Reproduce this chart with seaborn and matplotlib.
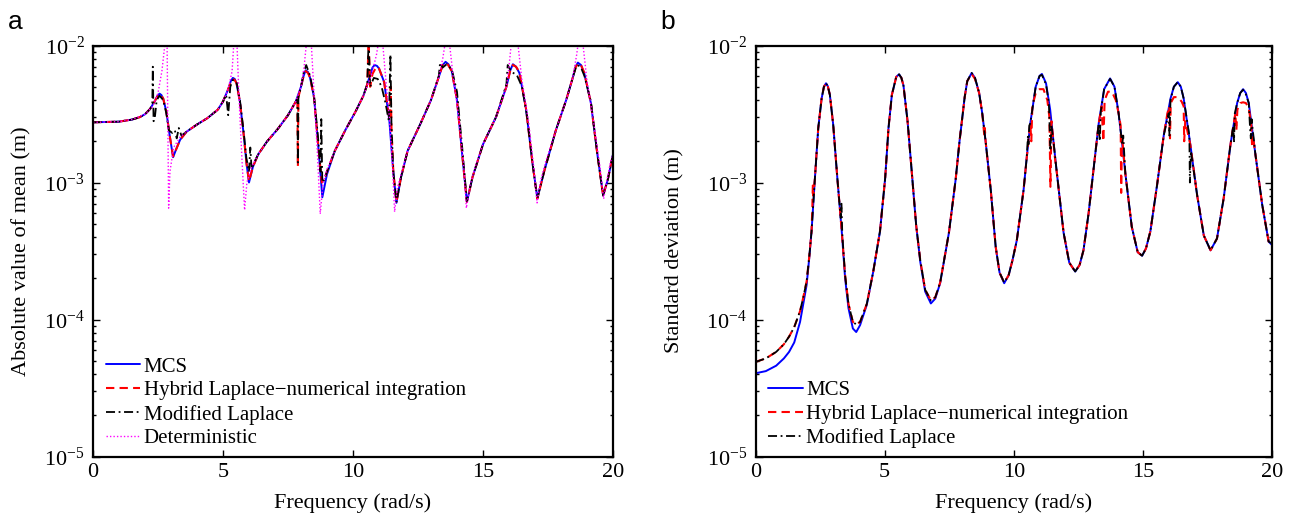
import numpy as np
import pandas as pd
import matplotlib
matplotlib.use("Agg")
import matplotlib.pyplot as plt
from matplotlib.ticker import LogLocator, LogFormatterMathtext, NullFormatter, FixedLocator
import seaborn as sns

# ---------------- data ----------------
# Panel a: absolute value of mean (m) vs frequency (rad/s)
mcs_a = [(0, 2.75e-3), (1.0, 2.78e-3), (1.5, 2.88e-3), (1.8, 3.0e-3), (2.0, 3.15e-3), (2.2, 3.45e-3),
         (2.4, 4.0e-3), (2.48, 4.3e-3), (2.56, 4.45e-3), (2.63, 4.35e-3), (2.7, 4.1e-3), (2.82, 3.3e-3),
         (2.95, 2.2e-3), (3.08, 1.53e-3), (3.2, 1.75e-3), (3.35, 2.05e-3), (3.6, 2.35e-3), (4.0, 2.65e-3),
         (4.4, 2.95e-3), (4.8, 3.4e-3), (5.0, 3.9e-3), (5.2, 4.8e-3), (5.3, 5.5e-3), (5.38, 5.8e-3),
         (5.45, 5.7e-3), (5.52, 5.3e-3), (5.65, 3.9e-3), (5.8, 2.2e-3), (5.9, 1.4e-3), (6.0, 1.0e-3),
         (6.15, 1.3e-3), (6.35, 1.6e-3), (6.7, 2.0e-3), (7.1, 2.45e-3), (7.5, 3.1e-3), (7.8, 3.9e-3),
         (8.0, 5.0e-3), (8.1, 6.0e-3), (8.18, 6.6e-3), (8.27, 6.4e-3), (8.35, 5.8e-3), (8.5, 4.2e-3),
         (8.65, 2.0e-3), (8.82, 7.8e-4), (9.0, 1.15e-3), (9.3, 1.7e-3), (9.7, 2.4e-3), (10.1, 3.3e-3),
         (10.4, 4.3e-3), (10.65, 6.0e-3), (10.75, 6.9e-3), (10.83, 7.2e-3), (10.92, 7.1e-3), (11.0, 6.8e-3),
         (11.2, 5.4e-3), (11.4, 2.8e-3), (11.55, 1.2e-3), (11.67, 7.1e-4), (11.85, 1.1e-3), (12.1, 1.7e-3),
         (12.6, 2.7e-3), (13.0, 4.0e-3), (13.3, 5.9e-3), (13.45, 7.2e-3), (13.56, 7.6e-3), (13.67, 7.3e-3),
         (13.8, 6.5e-3), (14.0, 4.0e-3), (14.2, 1.6e-3), (14.38, 7.2e-4), (14.6, 1.1e-3), (15.0, 1.9e-3),
         (15.5, 3.0e-3), (15.9, 5.0e-3), (16.05, 6.6e-3), (16.15, 7.3e-3), (16.27, 7.0e-3), (16.4, 6.3e-3),
         (16.65, 3.5e-3), (16.9, 1.4e-3), (17.09, 7.7e-4), (17.35, 1.2e-3), (17.8, 2.4e-3), (18.2, 4.0e-3),
         (18.45, 5.8e-3), (18.56, 7.0e-3), (18.65, 7.5e-3), (18.77, 7.2e-3), (18.9, 6.2e-3), (19.15, 3.8e-3),
         (19.4, 1.6e-3), (19.62, 8.1e-4), (19.8, 1.05e-3), (20.0, 1.6e-3)]

hyb_a = [(0, 2.75e-3), (1.0, 2.78e-3), (1.5, 2.88e-3), (1.8, 3.0e-3), (2.0, 3.15e-3), (2.2, 3.45e-3),
         (2.4, 4.0e-3), (2.48, 4.25e-3), (2.56, 4.4e-3), (2.63, 4.3e-3), (2.7, 4.1e-3), (2.82, 3.3e-3),
         (2.95, 2.2e-3), (3.08, 1.55e-3), (3.2, 1.75e-3), (3.35, 2.05e-3), (3.6, 2.35e-3), (4.0, 2.65e-3),
         (4.4, 2.95e-3), (4.8, 3.4e-3), (5.0, 3.9e-3), (5.2, 4.8e-3), (5.3, 5.4e-3), (5.38, 5.7e-3),
         (5.45, 5.6e-3), (5.52, 5.3e-3), (5.65, 3.9e-3), (5.8, 2.2e-3), (5.9, 1.4e-3), (6.0, 1.02e-3),
         (6.15, 1.3e-3), (6.35, 1.6e-3), (6.7, 2.0e-3), (7.1, 2.45e-3), (7.5, 3.1e-3), (7.8, 3.9e-3),
         (7.86, 4.1e-3), (7.88, 1.3e-3), (7.9, 4.2e-3), (8.0, 5.0e-3), (8.1, 6.0e-3), (8.18, 6.5e-3),
         (8.27, 6.3e-3), (8.35, 5.8e-3), (8.5, 4.2e-3), (8.65, 2.0e-3), (8.8, 1.0e-3), (8.9, 1.05e-3),
         (9.0, 1.2e-3), (9.3, 1.7e-3), (9.7, 2.4e-3), (10.1, 3.3e-3), (10.4, 4.3e-3), (10.55, 5.2e-3),
         (10.6, 1.1e-2), (10.66, 5.0e-3), (10.75, 6.2e-3), (10.9, 7.0e-3), (11.0, 6.8e-3), (11.2, 5.4e-3),
         (11.38, 3.0e-3), (11.42, 2.9e-3), (11.45, 5.0e-3), (11.48, 2.5e-3), (11.55, 1.2e-3), (11.67, 7.2e-4),
         (11.85, 1.1e-3), (12.1, 1.7e-3), (12.6, 2.7e-3), (13.0, 4.0e-3), (13.3, 5.9e-3), (13.45, 7.2e-3),
         (13.6, 7.5e-3), (13.8, 6.5e-3), (14.0, 4.0e-3), (14.2, 1.6e-3), (14.38, 7.2e-4), (14.6, 1.1e-3),
         (15.0, 1.9e-3), (15.5, 3.0e-3), (15.9, 5.0e-3), (16.05, 6.6e-3), (16.15, 7.2e-3), (16.27, 7.0e-3),
         (16.4, 6.4e-3), (16.65, 3.5e-3), (16.9, 1.4e-3), (17.09, 7.6e-4), (17.35, 1.2e-3), (17.8, 2.4e-3),
         (18.2, 4.0e-3), (18.45, 5.8e-3), (18.56, 6.9e-3), (18.65, 7.4e-3), (18.77, 7.2e-3), (18.9, 6.3e-3),
         (19.15, 3.8e-3), (19.4, 1.6e-3), (19.62, 8.0e-4), (19.8, 1.05e-3), (20.0, 1.6e-3)]

mod_a = [(0, 2.75e-3), (1.0, 2.78e-3), (1.5, 2.88e-3), (1.8, 3.0e-3), (2.0, 3.15e-3), (2.2, 3.45e-3),
         (2.28, 3.7e-3), (2.3, 7.0e-3), (2.33, 2.8e-3), (2.38, 3.0e-3), (2.45, 4.0e-3), (2.56, 4.3e-3),
         (2.7, 4.0e-3), (2.82, 3.2e-3), (2.92, 2.4e-3), (3.05, 2.3e-3), (3.15, 2.4e-3), (3.22, 2.1e-3),
         (3.3, 2.5e-3), (3.4, 2.2e-3), (3.6, 2.35e-3), (4.0, 2.65e-3), (4.4, 2.95e-3), (4.8, 3.4e-3),
         (5.0, 3.9e-3), (5.12, 4.4e-3), (5.2, 3.1e-3), (5.28, 5.0e-3), (5.38, 5.6e-3), (5.52, 5.4e-3),
         (5.65, 4.0e-3), (5.8, 2.3e-3), (5.9, 1.5e-3), (6.0, 1.2e-3), (6.05, 1.8e-3), (6.1, 1.25e-3),
         (6.2, 1.4e-3), (6.35, 1.6e-3), (6.7, 2.0e-3), (7.1, 2.45e-3), (7.5, 3.1e-3), (7.8, 3.9e-3),
         (7.86, 4.1e-3), (7.88, 1.4e-3), (7.9, 4.2e-3), (8.0, 5.0e-3), (8.1, 6.3e-3), (8.2, 7.2e-3),
         (8.35, 6.0e-3), (8.5, 4.3e-3), (8.65, 2.2e-3), (8.75, 1.2e-3), (8.78, 2.9e-3), (8.82, 1.0e-3),
         (8.9, 1.05e-3), (9.0, 1.2e-3), (9.3, 1.7e-3), (9.7, 2.4e-3), (10.1, 3.3e-3), (10.4, 4.3e-3),
         (10.55, 5.2e-3), (10.6, 1.1e-2), (10.66, 5.0e-3), (10.8, 5.8e-3), (10.95, 5.7e-3), (11.1, 5.0e-3),
         (11.25, 3.8e-3), (11.38, 2.8e-3), (11.44, 8.6e-3), (11.48, 2.6e-3), (11.55, 1.2e-3), (11.67, 7.2e-4),
         (11.85, 1.1e-3), (12.1, 1.7e-3), (12.6, 2.7e-3), (13.0, 4.0e-3), (13.3, 6.0e-3), (13.35, 7.5e-3),
         (13.45, 6.9e-3), (13.6, 7.3e-3), (13.8, 6.7e-3), (14.0, 4.6e-3), (14.2, 1.8e-3), (14.38, 7.3e-4),
         (14.6, 1.1e-3), (15.0, 1.9e-3), (15.5, 3.0e-3), (15.9, 5.2e-3), (15.95, 7.2e-3), (16.1, 6.4e-3),
         (16.3, 6.1e-3), (16.5, 5.0e-3), (16.7, 3.0e-3), (16.9, 1.4e-3), (17.09, 7.6e-4), (17.35, 1.2e-3),
         (17.8, 2.4e-3), (18.2, 4.0e-3), (18.45, 5.8e-3), (18.56, 6.8e-3), (18.65, 7.2e-3), (18.77, 6.9e-3),
         (18.9, 6.0e-3), (19.15, 3.9e-3), (19.4, 1.6e-3), (19.62, 8.0e-4), (19.8, 1.05e-3), (20.0, 1.6e-3)]

det_a = [(0, 2.75e-3), (1.0, 2.78e-3), (1.5, 2.88e-3), (2.0, 3.15e-3), (2.3, 3.6e-3), (2.5, 4.5e-3),
         (2.65, 6.5e-3), (2.76, 1.0e-2), (2.8, 3e-2), (2.85, 1.0e-2), (2.88, 2.5e-3), (2.91, 6.5e-4),
         (2.96, 1.2e-3), (3.1, 1.8e-3), (3.35, 2.15e-3), (3.6, 2.35e-3), (4.0, 2.65e-3), (4.4, 2.95e-3),
         (4.8, 3.4e-3), (5.0, 3.9e-3), (5.2, 4.8e-3), (5.35, 6.5e-3), (5.41, 1.0e-2), (5.48, 3e-2),
         (5.54, 1.0e-2), (5.62, 4.0e-3), (5.72, 1.6e-3), (5.83, 6.3e-4), (5.92, 1.0e-3), (6.1, 1.3e-3),
         (6.35, 1.6e-3), (6.7, 2.0e-3), (7.1, 2.45e-3), (7.5, 3.1e-3), (7.8, 3.9e-3), (8.0, 5.0e-3),
         (8.12, 7.0e-3), (8.2, 1.0e-2), (8.3, 3e-2), (8.4, 1.0e-2), (8.5, 4.5e-3), (8.62, 1.8e-3),
         (8.74, 5.9e-4), (8.85, 1.0e-3), (9.0, 1.25e-3), (9.3, 1.7e-3), (9.7, 2.4e-3), (10.1, 3.3e-3),
         (10.4, 4.3e-3), (10.7, 6.0e-3), (10.9, 8.5e-3), (10.96, 1.0e-2), (11.05, 3e-2), (11.15, 1.0e-2),
         (11.25, 6.0e-3), (11.4, 3.0e-3), (11.52, 1.3e-3), (11.6, 6.1e-4), (11.7, 9.0e-4), (11.85, 1.15e-3),
         (12.1, 1.7e-3), (12.6, 2.7e-3), (13.0, 4.0e-3), (13.3, 5.9e-3), (13.45, 8.0e-3), (13.53, 1.0e-2),
         (13.62, 3e-2), (13.72, 1.0e-2), (13.85, 6.0e-3), (14.05, 3.2e-3), (14.25, 1.4e-3), (14.36, 6.5e-4),
         (14.5, 9.5e-4), (14.7, 1.3e-3), (15.0, 1.9e-3), (15.5, 3.0e-3), (15.9, 5.0e-3), (16.0, 7.0e-3),
         (16.08, 1.0e-2), (16.2, 3e-2), (16.35, 1.0e-2), (16.5, 5.5e-3), (16.75, 2.8e-3), (16.95, 1.3e-3),
         (17.08, 7.1e-4), (17.2, 1.0e-3), (17.4, 1.4e-3), (17.8, 2.4e-3), (18.2, 4.0e-3), (18.45, 5.8e-3),
         (18.6, 8.5e-3), (18.65, 1.0e-2), (18.75, 3e-2), (18.85, 1.0e-2), (19.0, 5.5e-3), (19.25, 2.8e-3),
         (19.5, 1.3e-3), (19.64, 7.6e-4), (19.75, 1.0e-3), (19.9, 1.4e-3), (20.0, 1.6e-3)]

# Panel b: standard deviation (m) vs frequency (rad/s)
mcs_b = [(0, 4.05e-5), (0.4, 4.2e-5), (0.8, 4.6e-5), (1.1, 5.2e-5), (1.3, 5.8e-5), (1.5, 6.8e-5),
         (1.725, 9.6e-5), (1.85, 1.3e-4), (1.98, 1.79e-4), (2.08, 2.8e-4), (2.17, 4.4e-4), (2.3, 1.07e-3),
         (2.43, 2.5e-3), (2.56, 4.1e-3), (2.65, 5.0e-3), (2.73, 5.3e-3), (2.8, 5.05e-3), (2.88, 4.36e-3),
         (3.01, 2.63e-3), (3.17, 1.07e-3), (3.34, 4.4e-4), (3.47, 2.0e-4), (3.6, 1.21e-4), (3.77, 8.6e-5),
         (3.9, 8.1e-5), (4.05, 9.1e-5), (4.31, 1.28e-4), (4.56, 2.24e-4), (4.82, 4.4e-4), (5.02, 1.07e-3),
         (5.15, 2.5e-3), (5.28, 4.36e-3), (5.45, 5.9e-3), (5.56, 6.16e-3), (5.65, 5.8e-3), (5.73, 5.1e-3),
         (5.89, 2.78e-3), (6.05, 1.2e-3), (6.22, 4.9e-4), (6.38, 2.64e-4), (6.57, 1.6e-4), (6.79, 1.31e-4),
         (6.96, 1.42e-4), (7.15, 1.84e-4), (7.49, 4.3e-4), (7.75, 1.05e-3), (7.9, 2.0e-3), (8.01, 3.0e-3),
         (8.1, 4.2e-3), (8.2, 5.5e-3), (8.37, 6.3e-3), (8.5, 5.8e-3), (8.66, 4.5e-3), (8.78, 3.2e-3),
         (8.91, 2.0e-3), (9.11, 8.8e-4), (9.3, 3.4e-4), (9.45, 2.2e-4), (9.63, 1.84e-4), (9.8, 2.1e-4),
         (9.95, 2.7e-4), (10.12, 3.8e-4), (10.38, 8.8e-4), (10.5, 1.5e-3), (10.64, 2.7e-3), (10.85, 5.0e-3),
         (11.0, 6.0e-3), (11.09, 6.2e-3), (11.25, 5.3e-3), (11.41, 3.4e-3), (11.55, 1.9e-3), (11.67, 1.17e-3),
         (11.93, 4.3e-4), (12.15, 2.6e-4), (12.38, 2.24e-4), (12.55, 2.5e-4), (12.7, 3.2e-4), (12.9, 6.0e-4),
         (13.03, 9.9e-4), (13.29, 2.7e-3), (13.5, 4.8e-3), (13.73, 5.75e-3), (13.9, 5.0e-3), (14.06, 3.2e-3),
         (14.2, 1.9e-3), (14.32, 1.17e-3), (14.57, 4.75e-4), (14.8, 3.1e-4), (14.97, 2.92e-4), (15.12, 3.3e-4),
         (15.29, 4.4e-4), (15.55, 9.6e-4), (15.81, 2.22e-3), (16.07, 4.1e-3), (16.2, 5.0e-3), (16.35, 5.4e-3),
         (16.47, 5.0e-3), (16.58, 4.1e-3), (16.84, 1.88e-3), (17.1, 8.1e-4), (17.36, 4.1e-4), (17.62, 3.2e-4),
         (17.87, 3.9e-4), (18.13, 7.7e-4), (18.39, 1.88e-3), (18.65, 3.8e-3), (18.77, 4.5e-3), (18.88, 4.8e-3),
         (18.99, 4.5e-3), (19.1, 3.8e-3), (19.36, 1.59e-3), (19.62, 6.9e-4), (19.87, 3.7e-4), (20.0, 3.5e-4)]

hyb_b = [(0, 4.9e-5), (0.4, 5.2e-5), (0.8, 5.8e-5), (1.1, 6.6e-5), (1.3, 7.5e-5), (1.5, 8.8e-5),
         (1.725, 1.15e-4), (1.85, 1.45e-4), (1.98, 1.9e-4), (2.08, 2.85e-4), (2.17, 4.4e-4), (2.2, 6.5e-4),
         (2.22, 9.5e-4), (2.24, 8.0e-4), (2.3, 1.07e-3), (2.43, 2.5e-3), (2.56, 4.1e-3), (2.65, 5.0e-3),
         (2.73, 5.3e-3), (2.8, 5.05e-3), (2.88, 4.36e-3), (3.01, 2.63e-3), (3.17, 1.07e-3), (3.34, 4.4e-4),
         (3.47, 2.1e-4), (3.6, 1.3e-4), (3.77, 9.6e-5), (3.9, 9.2e-5), (4.05, 9.6e-5), (4.31, 1.3e-4),
         (4.56, 2.24e-4), (4.82, 4.4e-4), (5.02, 1.07e-3), (5.15, 2.5e-3), (5.28, 4.36e-3), (5.45, 5.9e-3),
         (5.56, 6.16e-3), (5.65, 5.8e-3), (5.73, 5.1e-3), (5.89, 2.78e-3), (6.05, 1.2e-3), (6.22, 4.9e-4),
         (6.38, 2.7e-4), (6.57, 1.65e-4), (6.79, 1.38e-4), (6.96, 1.45e-4), (7.15, 1.86e-4), (7.49, 4.3e-4),
         (7.75, 1.05e-3), (7.9, 2.0e-3), (8.01, 3.0e-3), (8.1, 4.2e-3), (8.2, 5.5e-3), (8.37, 6.2e-3),
         (8.5, 5.7e-3), (8.66, 4.5e-3), (8.78, 3.2e-3), (8.86, 2.2e-3), (8.88, 2.5e-3), (8.91, 2.0e-3),
         (9.11, 8.8e-4), (9.3, 3.4e-4), (9.45, 2.2e-4), (9.63, 1.86e-4), (9.8, 2.1e-4), (9.95, 2.7e-4),
         (10.12, 3.8e-4), (10.38, 8.8e-4), (10.5, 1.5e-3), (10.64, 2.7e-3), (10.68, 2.0e-3), (10.72, 3.6e-3),
         (10.85, 4.5e-3), (11.0, 4.8e-3), (11.15, 4.8e-3), (11.3, 4.0e-3), (11.38, 3.0e-3), (11.42, 9.3e-4),
         (11.46, 2.8e-3), (11.55, 1.9e-3), (11.58, 1.6e-3), (11.67, 1.17e-3), (11.93, 4.3e-4), (12.15, 2.6e-4),
         (12.38, 2.24e-4), (12.55, 2.5e-4), (12.7, 3.2e-4), (12.9, 6.0e-4), (13.03, 9.9e-4), (13.29, 2.7e-3),
         (13.4, 3.6e-3), (13.47, 2.0e-3), (13.52, 4.0e-3), (13.65, 4.6e-3), (13.8, 4.6e-3), (13.95, 4.0e-3),
         (14.06, 3.2e-3), (14.14, 2.6e-3), (14.16, 8.4e-4), (14.19, 2.2e-3), (14.32, 1.17e-3), (14.57, 4.75e-4),
         (14.8, 3.1e-4), (14.97, 2.92e-4), (15.12, 3.3e-4), (15.29, 4.4e-4), (15.55, 9.6e-4), (15.81, 2.22e-3),
         (15.95, 3.2e-3), (16.02, 3.6e-3), (16.05, 2.1e-3), (16.08, 3.8e-3), (16.2, 4.2e-3), (16.35, 4.2e-3),
         (16.5, 3.9e-3), (16.58, 3.6e-3), (16.6, 2.0e-3), (16.64, 2.8e-3), (16.84, 1.88e-3), (17.1, 8.1e-4),
         (17.36, 4.1e-4), (17.62, 3.2e-4), (17.87, 3.9e-4), (18.13, 7.7e-4), (18.39, 1.88e-3), (18.58, 3.2e-3),
         (18.62, 2.4e-3), (18.66, 3.4e-3), (18.77, 3.8e-3), (18.88, 3.85e-3), (18.99, 3.8e-3), (19.1, 3.5e-3),
         (19.2, 2.6e-3), (19.23, 1.8e-3), (19.26, 2.2e-3), (19.36, 1.59e-3), (19.62, 6.9e-4), (19.87, 3.7e-4),
         (20.0, 3.6e-4)]

mod_b = [(0, 4.9e-5), (0.4, 5.2e-5), (0.8, 5.8e-5), (1.1, 6.6e-5), (1.3, 7.5e-5), (1.5, 8.8e-5),
         (1.725, 1.15e-4), (1.85, 1.45e-4), (1.98, 1.9e-4), (2.08, 2.85e-4), (2.17, 4.4e-4), (2.3, 1.07e-3),
         (2.43, 2.5e-3), (2.56, 4.1e-3), (2.65, 5.0e-3), (2.73, 5.3e-3), (2.8, 5.05e-3), (2.88, 4.36e-3),
         (3.01, 2.63e-3), (3.17, 1.07e-3), (3.3, 5.5e-4), (3.33, 7.0e-4), (3.36, 4.2e-4), (3.47, 2.1e-4),
         (3.6, 1.3e-4), (3.77, 9.6e-5), (3.9, 9.2e-5), (4.05, 9.6e-5), (4.31, 1.3e-4), (4.56, 2.24e-4),
         (4.82, 4.4e-4), (5.02, 1.07e-3), (5.15, 2.5e-3), (5.28, 4.36e-3), (5.45, 5.9e-3), (5.56, 6.16e-3),
         (5.65, 5.8e-3), (5.73, 5.1e-3), (5.89, 2.78e-3), (6.05, 1.2e-3), (6.22, 4.9e-4), (6.38, 2.7e-4),
         (6.57, 1.65e-4), (6.79, 1.38e-4), (6.96, 1.45e-4), (7.15, 1.86e-4), (7.49, 4.3e-4), (7.75, 1.05e-3),
         (7.9, 2.0e-3), (8.01, 3.0e-3), (8.1, 4.2e-3), (8.2, 5.5e-3), (8.37, 6.3e-3), (8.5, 5.8e-3),
         (8.66, 4.5e-3), (8.78, 3.2e-3), (8.91, 2.0e-3), (9.11, 8.8e-4), (9.3, 3.4e-4), (9.45, 2.2e-4),
         (9.63, 1.86e-4), (9.8, 2.1e-4), (9.95, 2.7e-4), (10.12, 3.8e-4), (10.38, 8.8e-4), (10.5, 1.5e-3),
         (10.55, 2.2e-3), (10.57, 1.9e-3), (10.6, 2.6e-3), (10.64, 2.7e-3), (10.85, 5.0e-3), (11.0, 6.0e-3),
         (11.09, 6.1e-3), (11.25, 5.2e-3), (11.36, 3.8e-3), (11.42, 1.7e-3), (11.46, 2.6e-3), (11.55, 1.9e-3),
         (11.67, 1.17e-3), (11.93, 4.3e-4), (12.15, 2.6e-4), (12.38, 2.24e-4), (12.55, 2.5e-4), (12.7, 3.2e-4),
         (12.9, 6.0e-4), (13.03, 9.9e-4), (13.29, 2.7e-3), (13.33, 2.0e-3), (13.37, 3.3e-3), (13.5, 4.8e-3),
         (13.73, 5.7e-3), (13.9, 5.0e-3), (14.06, 3.2e-3), (14.2, 1.9e-3), (14.24, 2.2e-3), (14.32, 1.17e-3),
         (14.57, 4.75e-4), (14.8, 3.1e-4), (14.97, 2.92e-4), (15.12, 3.3e-4), (15.29, 4.4e-4), (15.55, 9.6e-4),
         (15.81, 2.22e-3), (16.0, 3.2e-3), (16.03, 2.2e-3), (16.07, 4.0e-3), (16.2, 5.0e-3), (16.35, 5.4e-3),
         (16.47, 5.0e-3), (16.58, 4.1e-3), (16.8, 2.2e-3), (16.82, 1.0e-3), (16.86, 1.7e-3), (17.1, 8.1e-4),
         (17.36, 4.1e-4), (17.62, 3.2e-4), (17.87, 3.9e-4), (18.13, 7.7e-4), (18.39, 1.88e-3), (18.5, 2.6e-3),
         (18.53, 2.0e-3), (18.56, 3.2e-3), (18.65, 3.8e-3), (18.77, 4.5e-3), (18.88, 4.75e-3), (18.99, 4.4e-3),
         (19.1, 3.8e-3), (19.15, 2.5e-3), (19.18, 2.1e-3), (19.21, 2.9e-3), (19.36, 1.59e-3), (19.62, 6.9e-4),
         (19.87, 3.7e-4), (20.0, 3.6e-4)]

labels_a = ["MCS", "Hybrid Laplace\u2212numerical integration", "Modified Laplace", "Deterministic"]
x_ticks = [0, 5, 10, 15, 20]
ylabel_a = "Absolute value of mean (m)"
ylabel_b = "Standard deviation (m)"
xlabel = "Frequency (rad/s)"

# ---------------- styling ----------------
sns.set_style("ticks")
plt.rcParams["font.family"] = ["Liberation Serif", "DejaVu Serif"]
plt.rcParams["mathtext.fontset"] = "custom"
plt.rcParams["mathtext.rm"] = "Liberation Serif"
plt.rcParams["mathtext.it"] = "Liberation Serif:italic"
plt.rcParams["mathtext.bf"] = "Liberation Serif:bold"
for key in ["text.color", "axes.labelcolor", "xtick.color", "ytick.color", "axes.edgecolor"]:
    plt.rcParams[key] = "black"

styles = [
    dict(color="#0000FF", linestyle="-", linewidth=1.4),
    dict(color="#FF0000", linestyle=(0, (4, 2.5)), linewidth=1.5),
    dict(color="#000000", linestyle=(0, (5, 2, 1, 2)), linewidth=1.3),
    dict(color="#FF00FF", linestyle=(0, (1, 1.5)), linewidth=1.0),
]

fig = plt.figure(figsize=(12.98, 5.22), dpi=100)
W, H = 1298.0, 522.0
ax_a = fig.add_axes([93 / W, (H - 456.5) / H, 520 / W, 411 / H])
ax_b = fig.add_axes([755.5 / W, (H - 456.5) / H, 516.5 / W, 411 / H])


def draw(ax, series, labels):
    for data, lab, st in zip(series, labels, styles):
        df = pd.DataFrame(data, columns=["freq", "val"])
        sns.lineplot(data=df, x="freq", y="val", ax=ax, estimator=None, sort=False,
                     label=lab, **st)


def format_axes(ax, ylabel, label_x):
    ax.set_yscale("log")
    ax.set_xlim(0, 20)
    ax.set_ylim(1e-5, 1e-2)
    ax.xaxis.set_major_locator(FixedLocator(x_ticks))
    ax.yaxis.set_major_locator(LogLocator(base=10, numticks=10))
    ax.yaxis.set_minor_locator(LogLocator(base=10, subs=np.arange(2, 10), numticks=20))
    ax.yaxis.set_major_formatter(LogFormatterMathtext())
    ax.yaxis.set_minor_formatter(NullFormatter())
    ax.tick_params(which="both", direction="in", top=True, right=True, labelsize=16, width=1.0,
                   color="black", labelcolor="black")
    ax.tick_params(which="major", length=5)
    ax.tick_params(which="minor", length=2.5)
    ax.tick_params(axis="x", pad=5)
    ax.tick_params(axis="y", pad=6)
    for sp in ax.spines.values():
        sp.set_linewidth(1.6)
        sp.set_color("black")
        sp.set_visible(True)
    ax.set_xlabel(xlabel, fontsize=16, labelpad=8)
    ax.set_ylabel(ylabel, fontsize=16)
    ax.yaxis.set_label_coords(label_x, 0.5)
    ax.grid(False)


draw(ax_a, [mcs_a, hyb_a, mod_a, det_a], labels_a)
draw(ax_b, [mcs_b, hyb_b, mod_b], labels_a[:3])
format_axes(ax_a, ylabel_a, -0.118)
format_axes(ax_b, ylabel_b, -0.138)

for ax in (ax_a, ax_b):
    leg = ax.legend(loc="lower left", bbox_to_anchor=(0.025, 0.02), frameon=False, fontsize=15,
                    handlelength=1.65, handletextpad=0.15, labelspacing=0.2, borderpad=0.0,
                    borderaxespad=0.0)

fig.text(8 / W, 1 - 10 / H, "a", fontsize=19, family="Liberation Sans", va="top", ha="left")
fig.text(660 / W, 1 - 10 / H, "b", fontsize=19, family="Liberation Sans", va="top", ha="left")

fig.savefig("out.png", dpi=100)
